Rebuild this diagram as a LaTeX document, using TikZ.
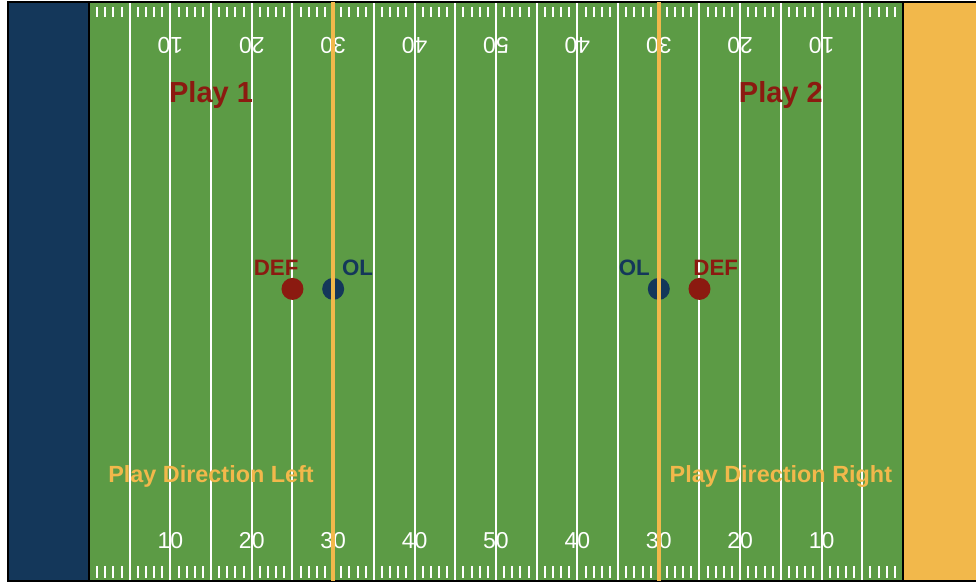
\documentclass[tikz,border=0pt]{standalone}
\usepackage{fontspec}
\setmainfont{Liberation Sans}
\usetikzlibrary{positioning}
\definecolor{endblue}{HTML}{14375A}
\definecolor{turf}{HTML}{5C9B45}
\definecolor{endgold}{HTML}{F2B84B}
\definecolor{defred}{HTML}{8B1A10}

\begin{document}
\begin{tikzpicture}[x=8.14pt, y=10.857pt,
    yardline/.style={white, line width=2pt},
    hashmark/.style={white, line width=2pt},
    yardnum/.style={white, inner sep=0pt, anchor=base, font=\fontsize{23}{23}\selectfont},
    scrimmage/.style={endgold, line width=4pt},
    player/.style={circle, minimum size=22pt, inner sep=0pt},
    tag/.style={inner sep=0pt, anchor=base, font=\fontsize{22.3}{24}\selectfont\bfseries},
    direction/.style={endgold, inner sep=0pt, anchor=base, font=\fontsize{23.4}{25}\selectfont\bfseries},
    playtitle/.style={defred, inner sep=0pt, anchor=base, font=\fontsize{29}{30}\selectfont\bfseries}
]
\useasboundingbox (-10.93,-0.184) rectangle (108.97,53.51);

% Campo e end zone
\fill[endblue] (-10,0) rectangle (0,53.33);
\fill[turf] (0,0) rectangle (100,53.33);
\fill[endgold] (100,0) rectangle (110,53.33);

% Linee delle yard
\foreach \x in {5,10,...,95}
    \draw[yardline] (\x,0) -- (\x,53.33);

% Tacche
\foreach \x in {1,...,99}{
    \pgfmathparse{mod(\x,5)==0 ? 1 : 0}
    \ifnum\pgfmathresult=0
        \draw[hashmark] (\x,0.28) -- (\x,1.38);
        \draw[hashmark] (\x,51.95) -- (\x,52.87);
    \fi
}

% Numeri
\foreach \x/\n in {10/10,20/20,30/30,40/40,50/50,60/40,70/30,80/20,90/10}{
    \node[yardnum] (bot\x) at (\x,2.95) {\n};
    \node[yardnum, rotate=180] (top\x) at (\x,50.1) {\n};
}

% Bordo
\draw[black, line width=2pt] (-10,0) rectangle (110,53.33);
\draw[black, line width=1.2pt] (0,0) -- (0,53.33);
\draw[black, line width=1.2pt] (100,0) -- (100,53.33);

% Giocatori
\node[player, fill=defred] (def1) at (25,26.9) {};
\node[player, fill=endblue] (ol1) at (30,26.9) {};
\node[player, fill=endblue] (ol2) at (70,26.9) {};
\node[player, fill=defred] (def2) at (75,26.9) {};

% Linee di scrimmage
\draw[scrimmage] (30,0) -- (30,53.33);
\draw[scrimmage] (70,0) -- (70,53.33);

% Etichette
\node[tag, defred] (def1lab) at (23,28.18) {DEF};
\node[tag, endblue] (ol1lab) at (33,28.18) {OL};
\node[tag, endblue] (ol2lab) at (67,28.18) {OL};
\node[tag, defred] (def2lab) at (77,28.18) {DEF};

\node[playtitle] (play1) at (15,44.05) {Play 1};
\node[playtitle] (play2) at (85,44.05) {Play 2};

\node[direction] (dirleft) at (15,9.03) {Play Direction Left};
\node[direction] (dirright) at (85,9.03) {Play Direction Right};

\end{tikzpicture}
\end{document}
